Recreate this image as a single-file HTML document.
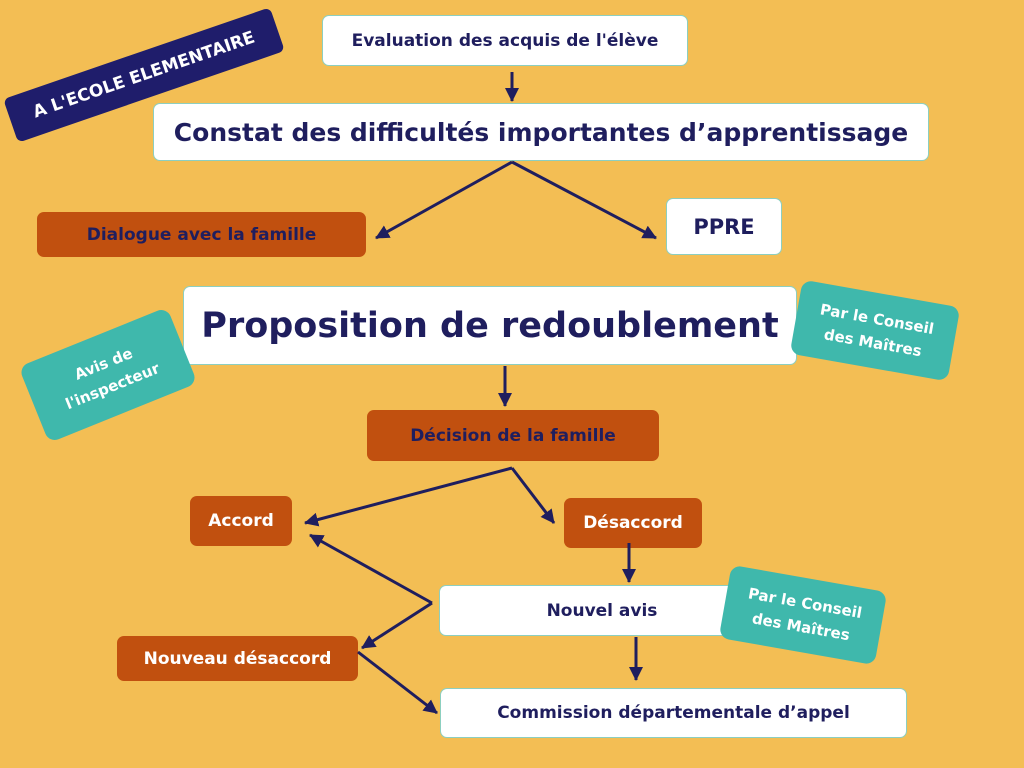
<!DOCTYPE html>
<html><head><meta charset="utf-8"><style>
body{margin:0;width:1024px;height:768px;background:#F3BE54;position:relative;overflow:hidden;font-family:"DejaVu Sans","Liberation Sans",sans-serif;font-weight:bold;color:#1F1E5E}
.b{position:absolute;display:flex;align-items:center;justify-content:center;box-sizing:border-box;border-radius:7px;text-align:center}
.w{background:#fff;border:1px solid #8ccfc0}
.o{background:#C1500F;color:#1F1E5E}
.t{background:#3FB8AC;color:#fff;border-radius:10px;line-height:1.6}
svg{position:absolute;left:0;top:0}
</style></head><body>
<div class="b" style="left:3px;top:52px;width:282px;height:46px;background:#1F1D6B;color:#fff;font-size:17px;transform:rotate(-19deg);border-radius:6px;">A L'ECOLE ELEMENTAIRE</div>
<div class="b w" style="left:322px;top:15px;width:366px;height:51px;font-size:17px">Evaluation des acquis de l'élève</div>
<div class="b w" style="left:153px;top:103px;width:776px;height:58px;font-size:25px">Constat des difficultés importantes d’apprentissage</div>
<div class="b o" style="left:37px;top:212px;width:329px;height:45px;font-size:17px">Dialogue avec la famille</div>
<div class="b w" style="left:666px;top:198px;width:116px;height:57px;font-size:21px">PPRE</div>
<div class="b w" style="left:183px;top:286px;width:614px;height:79px;font-size:35px">Proposition de redoublement</div>
<div class="b t" style="left:28px;top:334px;width:160px;height:82px;font-size:15px;transform:rotate(-22deg)">Avis de<br>l'inspecteur</div>
<div class="b t" style="left:795px;top:293px;width:160px;height:75px;font-size:15px;transform:rotate(10deg)">Par le Conseil<br>des Maîtres</div>
<div class="b o" style="left:367px;top:410px;width:292px;height:51px;font-size:17px">Décision de la famille</div>
<div class="b o" style="left:190px;top:496px;width:102px;height:50px;font-size:17px;color:#fff">Accord</div>
<div class="b o" style="left:564px;top:498px;width:138px;height:50px;font-size:17px;color:#fff">Désaccord</div>
<div class="b w" style="left:439px;top:585px;width:326px;height:51px;font-size:17px">Nouvel avis</div>
<div class="b t" style="left:724px;top:578px;width:158px;height:74px;font-size:15px;transform:rotate(10deg)">Par le Conseil<br>des Maîtres</div>
<div class="b o" style="left:117px;top:636px;width:241px;height:45px;font-size:17px;color:#fff">Nouveau désaccord</div>
<div class="b w" style="left:440px;top:688px;width:467px;height:50px;font-size:17px">Commission départementale d’appel</div>
<svg width="1024" height="768"><defs><marker id="a" markerWidth="16" markerHeight="16" refX="13" refY="7" orient="auto" markerUnits="userSpaceOnUse"><path d="M0,0L14,7L0,14z" fill="#1F1E5E"/></marker></defs>
<g stroke="#1F1E5E" stroke-width="3" fill="none" marker-end="url(#a)">
<line x1="512" y1="72" x2="512" y2="101"/>
<line x1="512" y1="162" x2="376" y2="238"/>
<line x1="512" y1="162" x2="656" y2="238"/>
<line x1="505" y1="366" x2="505" y2="406"/>
<line x1="512" y1="468" x2="305" y2="523"/>
<line x1="512" y1="468" x2="554" y2="523"/>
<line x1="629" y1="543" x2="629" y2="582"/>
<line x1="432" y1="603" x2="310" y2="535"/>
<line x1="432" y1="603" x2="362" y2="648"/>
<line x1="358" y1="652" x2="437" y2="713"/>
<line x1="636" y1="637" x2="636" y2="680"/>
</g></svg>
</body></html>
